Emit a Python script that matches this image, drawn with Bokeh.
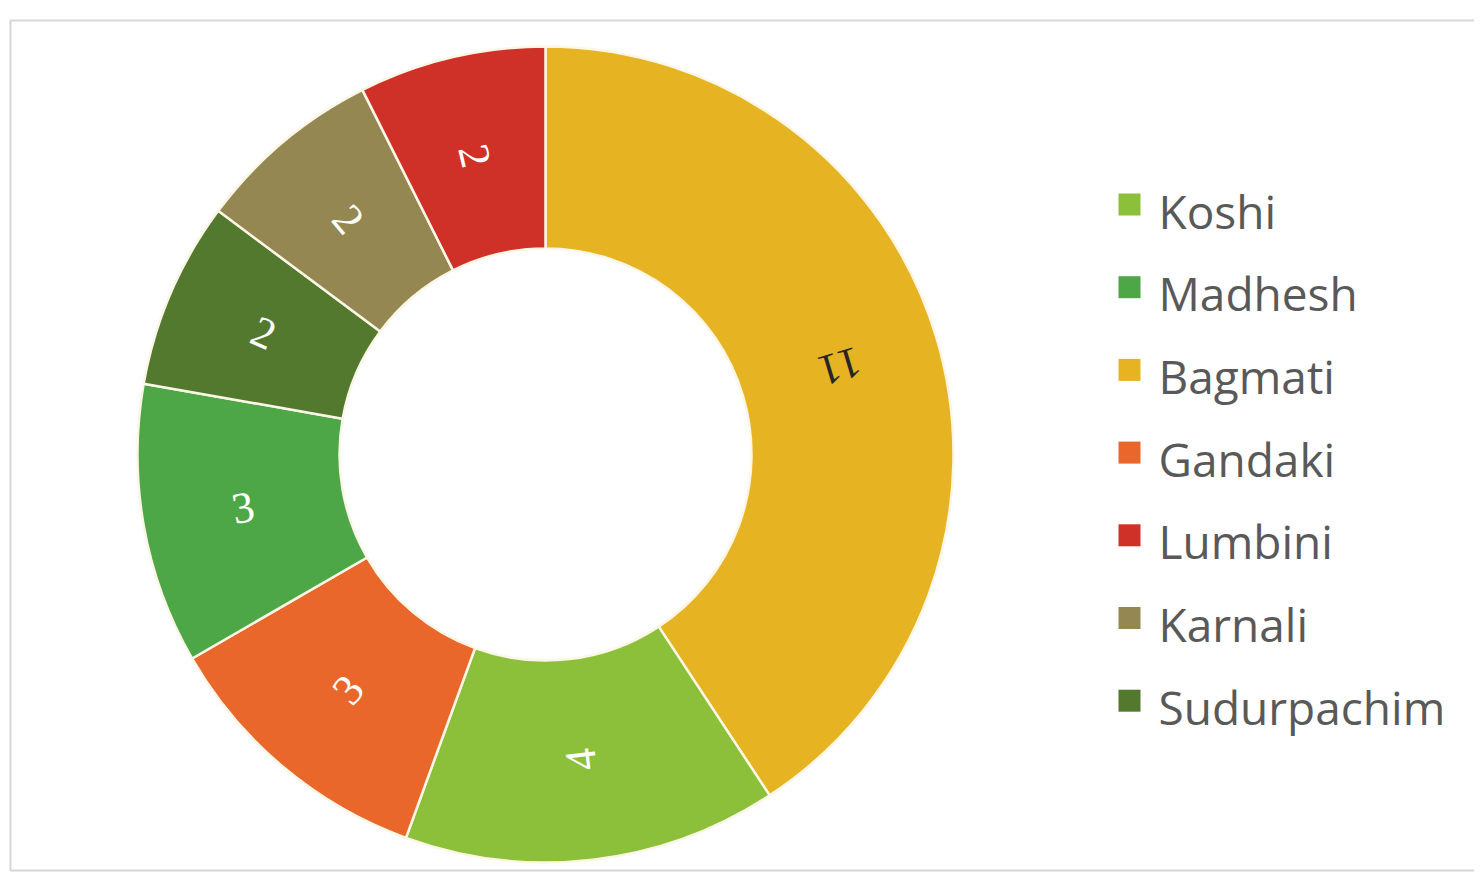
import numpy as np
from bokeh.plotting import figure
from bokeh.models import Range1d, ColumnDataSource
from bokeh.core.properties import value
from bokeh.embed import file_html
from bokeh.resources import INLINE

# ---- data (pie order, clockwise from 12 o'clock) ----
regions = ["Bagmati", "Koshi", "Gandaki", "Madhesh", "Sudurpachim", "Karnali", "Lumbini"]
counts = [11, 4, 3, 3, 2, 2, 2]
colors = ["#E6B423", "#8DC03A", "#E9672A", "#4EA746", "#53792F", "#958752", "#CF3027"]
label_colors = ["#262626", "white", "white", "white", "white", "white", "white"]
legend_order = ["Koshi", "Madhesh", "Bagmati", "Gandaki", "Lumbini", "Karnali", "Sudurpachim"]

W, H = 1474, 874
p = figure(width=W, height=H, x_range=Range1d(0, W), y_range=Range1d(0, H),
           output_backend="svg", toolbar_location=None, min_border=0,
           background_fill_color="white", border_fill_color="white")
p.axis.visible = False
p.grid.visible = False
p.outline_line_color = None


def py(Y):
    return H - Y


# panel border (left 10, top 20, bottom 870)
p.quad(left=[10], right=[W + 20], top=[py(20)], bottom=[py(870)],
       fill_color=None, line_color="#d6d6d6", line_width=2)

# ---- donut ----
cx, cy = 545, py(454)
R_out, R_in = 408, 206
total = float(sum(counts))
cum = np.concatenate([[0.0], np.cumsum(counts)])
start_clock = cum[:-1] / total * 2 * np.pi
end_clock = cum[1:] / total * 2 * np.pi
start_ang = np.pi / 2 - end_clock
end_ang = np.pi / 2 - start_clock
mid = (start_ang + end_ang) / 2
r_lab = (R_out + R_in) / 2

src = ColumnDataSource(dict(
    region=regions, count=counts, color=colors,
    start=start_ang, end=end_ang,
    lx=cx + r_lab * np.cos(mid), ly=cy + r_lab * np.sin(mid),
    lang=mid + np.pi, ltext=[str(c) for c in counts], lcolor=label_colors,
))

p.annular_wedge(x=cx, y=cy, inner_radius=R_in, outer_radius=R_out,
                start_angle="start", end_angle="end", fill_color="color",
                line_color="#FBF6E6", line_width=2.5, source=src)

p.text(x="lx", y="ly", text="ltext", angle="lang", text_color="lcolor",
       text_align="center", text_baseline="middle",
       text_font=value("Liberation Serif"), text_font_size="44px", source=src)

# ---- legend (manual) ----
cmap = dict(zip(regions, colors))
n = len(legend_order)
row0, step = 210, 82.7
rows = np.array([row0 + i * step for i in range(n)])
lsrc = ColumnDataSource(dict(
    name=legend_order, color=[cmap[r] for r in legend_order],
    sy=py(rows - 6), ty=py(rows),
    sx=[1129] * n, tx=[1158] * n,
))
p.scatter(x="sx", y="sy", marker="square", size=22, fill_color="color",
          line_color=None, source=lsrc)
p.text(x="tx", y="ty", text="name", text_color="#595959", text_align="left",
       text_baseline="middle", text_font=value("Open Sans"),
       text_font_size="46px", source=lsrc)

open("out.html", "w").write(file_html(p, INLINE))
